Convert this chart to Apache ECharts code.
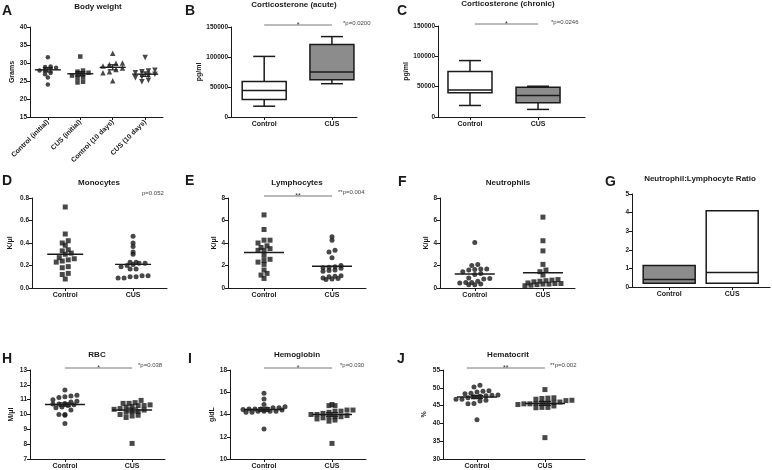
<!DOCTYPE html>
<html>
<head>
<meta charset="utf-8">
<script src="https://cdn.jsdelivr.net/npm/echarts@6/dist/echarts.min.js"></script>
<style>
  html, body { margin: 0; padding: 0; background: #fff; }
  #container { width: 772px; height: 470px; }
</style>
</head>
<body>
<div id="container"></div>
<script>
// ---- data ----
var twoCats = ['Control', 'CUS'];

// A: body weight (grams)
var bwCats = ['Control (initial)', 'CUS (initial)', 'Control (10 days)', 'CUS (10 days)'];
var bwControlInitial = [31.6, 29.0, 28.9, 28.7, 28.4, 28.0, 27.9, 27.2, 26.9, 26.0, 24.0];
var bwCusInitial = [31.8, 27.9, 27.6, 27.3, 27.0, 26.8, 26.5, 26.0, 25.8, 24.8, 24.6];
var bwControl10 = [32.7, 30.0, 29.9, 29.6, 29.2, 28.6, 28.2, 27.6, 27.3, 25.1];
var bwCus10 = [31.5, 28.0, 27.8, 27.6, 27.3, 26.9, 26.5, 26.2, 25.9, 25.2, 24.8];
var bwMeans = [28.1, 27.0, 28.8, 26.9];
var bwSem = [0.6, 0.6, 0.7, 0.6];

// B, C: corticosterone boxes [min, q1, median, q3, max]
var acuteControl = [18000, 29000, 44000, 59000, 101000];
var acuteCus = [55500, 62000, 75000, 121000, 134000];
var chronicControl = [19000, 40000, 44700, 75000, 93000];
var chronicCus = [12500, 23500, 35500, 49000, 50700];

// D: monocytes
var monoControl = [0.72, 0.48, 0.42, 0.40, 0.38, 0.34, 0.33, 0.31, 0.30, 0.27, 0.26, 0.25, 0.24, 0.23, 0.19, 0.18, 0.13, 0.12, 0.08];
var monoCus = [0.46, 0.40, 0.37, 0.32, 0.30, 0.23, 0.23, 0.22, 0.22, 0.21, 0.20, 0.19, 0.17, 0.17, 0.11, 0.11, 0.10, 0.10, 0.09, 0.09];
var monoLines = [0.30, 0.21];

// E: lymphocytes
var lymphControl = [6.5, 5.2, 4.25, 4.25, 4.0, 3.75, 3.6, 3.5, 3.35, 3.35, 2.9, 2.55, 2.45, 2.3, 2.1, 1.6, 1.3, 1.15, 0.85];
var lymphCus = [4.55, 4.25, 3.35, 3.2, 2.7, 2.0, 1.9, 1.85, 1.8, 1.75, 1.6, 1.55, 1.5, 1.1, 1.05, 1.0, 0.9, 0.85, 0.8, 0.75];
var lymphLines = [3.15, 1.93];

// F: neutrophils
var neutControl = [4.05, 2.1, 2.0, 1.7, 1.7, 1.65, 1.6, 1.45, 1.3, 1.2, 0.9, 0.85, 0.8, 0.6, 0.5, 0.5, 0.45, 0.35, 0.3, 0.3];
var neutCus = [6.3, 4.2, 3.3, 2.1, 1.6, 1.45, 1.15, 0.75, 0.7, 0.65, 0.6, 0.55, 0.45, 0.4, 0.4, 0.35, 0.35, 0.3, 0.25, 0.2];
var neutLines = [1.25, 1.35];

// G: neutrophil:lymphocyte ratio [min, median, max]
var nlrControl = [0.2, 0.4, 1.15];
var nlrCus = [0.2, 0.78, 4.1];

// H: RBC
var rbcControl = [11.65, 11.3, 11.25, 11.2, 11.15, 11.0, 10.9, 10.85, 10.75, 10.7, 10.7, 10.65, 10.6, 10.5, 10.45, 10.3, 10.0, 10.0, 9.95, 9.4];
var rbcCus = [10.95, 10.8, 10.75, 10.75, 10.65, 10.6, 10.6, 10.55, 10.5, 10.4, 10.35, 10.3, 10.2, 10.2, 10.15, 10.0, 9.95, 9.9, 9.8, 8.05];
var rbcMeans = [10.67, 10.3];
var rbcSem = [0.11, 0.13];

// I: hemoglobin
var hgbControl = [15.9, 15.4, 14.9, 14.7, 14.6, 14.6, 14.5, 14.5, 14.5, 14.5, 14.45, 14.4, 14.3, 14.3, 14.3, 14.3, 14.2, 14.2, 12.7];
var hgbCus = [14.9, 14.8, 14.8, 14.4, 14.4, 14.3, 14.3, 14.2, 14.1, 14.0, 14.0, 13.9, 13.8, 13.8, 13.8, 13.7, 13.6, 13.5, 13.4, 11.4];
var hgbMeans = [14.45, 14.0];
var hgbSem = [0.15, 0.16];

// J: hematocrit
var hctControl = [50.7, 50.2, 49.2, 49.0, 48.8, 48.5, 48.3, 48.0, 47.9, 47.8, 47.6, 47.5, 47.2, 46.8, 46.8, 46.5, 46.3, 45.6, 45.5, 41.0];
var hctCus = [49.5, 47.2, 47.1, 47.0, 46.8, 46.5, 46.4, 46.0, 45.9, 45.8, 45.7, 45.6, 45.5, 45.5, 45.3, 44.9, 44.5, 44.5, 44.4, 36.0];
var hctMeans = [47.4, 45.6];
var hctSem = [0.45, 0.55];

// ---- chart ----
var FONT = '"Liberation Sans", Arial, Helvetica, sans-serif';
var INK = '#1a1a1a';
var GRAY = '#8c8c8c';

var dom = document.getElementById('container');
var myChart = echarts.init(dom, null, { renderer: 'canvas' });

var option = {
  animation: false,
  backgroundColor: '#fff',
  textStyle: { fontFamily: FONT },
  title: [], grid: [], xAxis: [], yAxis: [], series: [], graphic: []
};

function addPanel(p) {
  var idx = option.grid.length;
  var ticks = p.cats.map(function (c, k) { return k + 1; });
  option.grid.push({ left: p.left, top: p.top, width: p.width, height: p.height });
  option.xAxis.push({
    gridIndex: idx, type: 'value', min: p.xMin, max: p.xMax,
    axisLine: { show: true, onZero: false, lineStyle: { color: INK, width: 1 } },
    axisTick: { show: true, customValues: ticks, length: 3, lineStyle: { color: INK } },
    axisLabel: {
      customValues: ticks, rotate: p.rotate || 0, margin: 4,
      fontSize: 7, fontWeight: 'bold', color: INK,
      formatter: function (v) { return p.cats[Math.round(v) - 1] || ''; }
    },
    splitLine: { show: false }
  });
  option.yAxis.push({
    gridIndex: idx, type: 'value', min: p.yMin, max: p.yMax, interval: p.interval,
    name: p.yName || '', nameLocation: 'middle', nameGap: p.nameGap || 10, nameRotate: 90,
    nameTextStyle: { fontSize: 7, fontWeight: 'bold', color: INK },
    axisLine: { show: true, lineStyle: { color: INK, width: 1 } },
    axisTick: { show: true, length: 3, lineStyle: { color: INK } },
    axisLabel: {
      fontSize: 6.5, fontWeight: 'bold', color: INK, margin: 3,
      formatter: p.yFmt || function (v) { return String(v); }
    },
    splitLine: { show: false }
  });
  option.title.push({
    text: p.title, left: p.titleX, top: p.titleY, textAlign: 'center', padding: 0,
    textStyle: { fontSize: 8, fontWeight: 'bold', color: INK, fontFamily: FONT }
  });
  return idx;
}

// Prism-like column scatter: points falling in the same height bin sit side by side, centred
function swarm(values, cat, p, size) {
  var sx = p.width / (p.xMax - p.xMin);
  var sy = p.height / (p.yMax - p.yMin);
  var step = size + 1;
  var bins = {};
  values.forEach(function (v) {
    var key = Math.floor((v - p.yMin) * sy / size);
    (bins[key] = bins[key] || []).push(v);
  });
  var out = [];
  Object.keys(bins).forEach(function (key) {
    var row = bins[key].sort(function (x, y) { return x - y; });
    row.forEach(function (v, k) {
      var off = (k - (row.length - 1) / 2) * step;
      out.push([cat + off / sx, v]);
    });
  });
  return out;
}

function dots(idx, p, values, cat, symbol, size, rot) {
  option.series.push({
    type: 'scatter', xAxisIndex: idx, yAxisIndex: idx, silent: true, z: 3,
    data: swarm(values, cat, p, size),
    symbol: symbol, symbolSize: size, symbolRotate: rot || 0,
    itemStyle: { color: INK }
  });
}

function seg(x1, y1, x2, y2, w, color) {
  return { type: 'line', shape: { x1: x1, y1: y1, x2: x2, y2: y2 }, style: { stroke: color || INK, lineWidth: w || 1.5 } };
}

// mean/median line with optional SEM bars
function centers(idx, vals, sems, hw, cap) {
  option.series.push({
    type: 'custom', xAxisIndex: idx, yAxisIndex: idx, silent: true, z: 4, clip: false,
    encode: { x: 0, y: 1 },
    data: vals.map(function (v, k) { return [k + 1, v, sems ? sems[k] : 0]; }),
    renderItem: function (params, api) {
      var x = api.value(0), m = api.value(1), s = api.value(2);
      var c = api.coord([x, m]);
      var kids = [seg(c[0] - hw, c[1], c[0] + hw, c[1], 1.4)];
      if (s > 0) {
        var t = api.coord([x, m + s]), b = api.coord([x, m - s]);
        kids.push(seg(c[0], t[1], c[0], b[1], 1.2));
        kids.push(seg(c[0] - cap, t[1], c[0] + cap, t[1], 1.2));
        kids.push(seg(c[0] - cap, b[1], c[0] + cap, b[1], 1.2));
      }
      return { type: 'group', children: kids };
    }
  });
}

// box: rows of [min, q1, median, q3, max]
function boxes(idx, rows, fills, hw, cap) {
  option.series.push({
    type: 'custom', xAxisIndex: idx, yAxisIndex: idx, silent: true, z: 3, clip: false,
    encode: { x: 0, y: 1 },
    data: rows.map(function (r, k) { return [k + 1].concat(r); }),
    renderItem: function (params, api) {
      var x = api.value(0);
      var lo = api.coord([x, api.value(1)]);
      var q1 = api.coord([x, api.value(2)]);
      var md = api.coord([x, api.value(3)]);
      var q3 = api.coord([x, api.value(4)]);
      var hi = api.coord([x, api.value(5)]);
      var cx = q1[0];
      var kids = [];
      if (hi[1] < q3[1] - 0.5) {
        kids.push(seg(cx, hi[1], cx, q3[1], 1.5));
        kids.push(seg(cx - cap, hi[1], cx + cap, hi[1], 1.5));
      }
      if (lo[1] > q1[1] + 0.5) {
        kids.push(seg(cx, q1[1], cx, lo[1], 1.5));
        kids.push(seg(cx - cap, lo[1], cx + cap, lo[1], 1.5));
      }
      kids.push({
        type: 'rect', shape: { x: cx - hw, y: q3[1], width: hw * 2, height: q1[1] - q3[1] },
        style: { fill: fills[params.dataIndex], stroke: INK, lineWidth: 1.5 }
      });
      kids.push(seg(cx - hw, md[1], cx + hw, md[1], 1.5));
      return { type: 'group', children: kids };
    }
  });
}

// significance bar between the two groups
function bracket(idx, p, stars, from) {
  option.series.push({
    type: 'custom', xAxisIndex: idx, yAxisIndex: idx, silent: true, z: 5, clip: false,
    encode: { x: 0, y: 2 },
    data: [[from || 1, 2, p.yMax]],
    renderItem: function (params, api) {
      var a = api.coord([api.value(0), api.value(2)]);
      var b = api.coord([api.value(1), api.value(2)]);
      var y = a[1] - 2;
      return {
        type: 'group', children: [
          seg(a[0], y, b[0], y, 1, '#777'),
          {
            type: 'text', x: (a[0] + b[0]) / 2, y: y + 4,
            style: {
              text: stars, align: 'center', verticalAlign: 'bottom',
              textAlign: 'center', textVerticalAlign: 'bottom',
              font: '7px ' + FONT, fill: '#333'
            }
          }
        ]
      };
    }
  });
}

// ---- panels ----
var pA = { left: 30, top: 27, width: 133, height: 90, xMin: 0.45, xMax: 4.55, yMin: 15, yMax: 40, interval: 5,
  cats: bwCats, rotate: 45, yName: 'Grams', nameGap: 13, title: 'Body weight', titleX: 98, titleY: 3 };
var a = addPanel(pA);
dots(a, pA, bwControlInitial, 1, 'circle', 4.5);
dots(a, pA, bwCusInitial, 2, 'rect', 4.5);
dots(a, pA, bwControl10, 3, 'triangle', 5.5);
dots(a, pA, bwCus10, 4, 'triangle', 5.5, 180);
centers(a, bwMeans, bwSem, 13, 5);

var pB = { left: 231, top: 27, width: 126, height: 90, xMin: 0.51, xMax: 2.37, yMin: 0, yMax: 150000, interval: 50000,
  cats: twoCats, yName: 'pg/ml', nameGap: 26, title: 'Corticosterone (acute)', titleX: 294, titleY: 1 };
var b = addPanel(pB);
boxes(b, [acuteControl, acuteCus], ['#fff', GRAY], 22, 11);
bracket(b, pB, '*');

var pC = { left: 438, top: 26, width: 147, height: 91, xMin: 0.53, xMax: 2.69, yMin: 0, yMax: 150000, interval: 50000,
  cats: twoCats, yName: 'pg/ml', nameGap: 6, title: 'Corticosterone (chronic)', titleX: 508, titleY: 0 };
var c = addPanel(pC);
boxes(c, [chronicControl, chronicCus], ['#fff', GRAY], 22, 11);
bracket(c, pC, '*', 1.07);

var pD = { left: 32, top: 198, width: 135, height: 90, xMin: 0.51, xMax: 2.5, yMin: 0, yMax: 0.8, interval: 0.2,
  cats: twoCats, yName: 'K/\u03bcl', nameGap: 18, title: 'Monocytes', titleX: 99, titleY: 179,
  yFmt: function (v) { return v.toFixed(1); } };
var d = addPanel(pD);
dots(d, pD, monoControl, 1, 'rect', 5);
dots(d, pD, monoCus, 2, 'circle', 5);
centers(d, monoLines, null, 18, 0);

var pE = { left: 228, top: 198, width: 138, height: 90, xMin: 0.47, xMax: 2.5, yMin: 0, yMax: 8, interval: 2,
  cats: twoCats, yName: 'K/\u03bcl', nameGap: 9, title: 'Lymphocytes', titleX: 297, titleY: 179 };
var e = addPanel(pE);
dots(e, pE, lymphControl, 1, 'rect', 5);
dots(e, pE, lymphCus, 2, 'circle', 5);
centers(e, lymphLines, null, 20, 0);
bracket(e, pE, '**');

var pF = { left: 440, top: 198, width: 135, height: 90, xMin: 0.49, xMax: 2.47, yMin: 0, yMax: 8, interval: 2,
  cats: twoCats, yName: 'K/\u03bcl', nameGap: 9, title: 'Neutrophils', titleX: 508, titleY: 179 };
var f = addPanel(pF);
dots(f, pF, neutControl, 1, 'circle', 5);
dots(f, pF, neutCus, 2, 'rect', 5);
centers(f, neutLines, null, 20, 0);

var pG = { left: 632, top: 194, width: 138, height: 93, xMin: 0.41, xMax: 2.6, yMin: 0, yMax: 5, interval: 1,
  cats: twoCats, title: 'Neutrophil:Lymphocyte Ratio', titleX: 700, titleY: 175 };
var g = addPanel(pG);
boxes(g, [nlrControl, nlrCus].map(function (r) { return [r[0], r[0], r[1], r[2], r[2]]; }), [GRAY, '#fff'], 26, 0);

var pH = { left: 30, top: 370, width: 135, height: 90, xMin: 0.48, xMax: 2.49, yMin: 7, yMax: 13, interval: 1,
  cats: twoCats, yName: 'M/\u03bcl', nameGap: 15, title: 'RBC', titleX: 97, titleY: 351 };
var h = addPanel(pH);
dots(h, pH, rbcControl, 1, 'circle', 5);
dots(h, pH, rbcCus, 2, 'rect', 5);
centers(h, rbcMeans, rbcSem, 20, 6);
bracket(h, pH, '*');

var pI = { left: 230, top: 370, width: 136, height: 90, xMin: 0.5, xMax: 2.5, yMin: 10, yMax: 18, interval: 2,
  cats: twoCats, yName: 'g/dL', nameGap: 11, title: 'Hemoglobin', titleX: 297, titleY: 351 };
var ii = addPanel(pI);
dots(ii, pI, hgbControl, 1, 'circle', 5);
dots(ii, pI, hgbCus, 2, 'rect', 5);
centers(ii, hgbMeans, hgbSem, 20, 6);
bracket(ii, pI, '*');

var pJ = { left: 443, top: 370, width: 142, height: 90, xMin: 0.5, xMax: 2.59, yMin: 30, yMax: 55, interval: 5,
  cats: twoCats, yName: '%', nameGap: 15, title: 'Hematocrit', titleX: 508, titleY: 351 };
var j = addPanel(pJ);
dots(j, pJ, hctControl, 1, 'circle', 5);
dots(j, pJ, hctCus, 2, 'rect', 5);
centers(j, hctMeans, hctSem, 20, 6);
bracket(j, pJ, '**', 0.85);

// panel letters and p-values
[['A', 2, 4], ['B', 185, 4], ['C', 397, 4], ['D', 2, 174], ['E', 185, 174], ['F', 398, 175],
 ['G', 605, 175], ['H', 2, 352], ['I', 188, 352], ['J', 397, 352]].forEach(function (t) {
  option.graphic.push({ type: 'text', left: t[1], top: t[2], silent: true,
    style: { text: t[0], font: 'bold 14px ' + FONT, fill: INK } });
});
[['*p=0.0200', 343, 20], ['*p=0.0246', 551, 19], ['p=0.052', 142, 190], ['**p=0.004', 338, 189],
 ['*p=0.038', 138, 362], ['*p=0.030', 340, 362], ['**p=0.002', 550, 362]].forEach(function (t) {
  option.graphic.push({ type: 'text', left: t[1], top: t[2], silent: true,
    style: { text: t[0], font: '6px ' + FONT, fill: '#444' } });
});

if (option && typeof option === 'object') {
  myChart.setOption(option);
}
</script>
</body>
</html>
